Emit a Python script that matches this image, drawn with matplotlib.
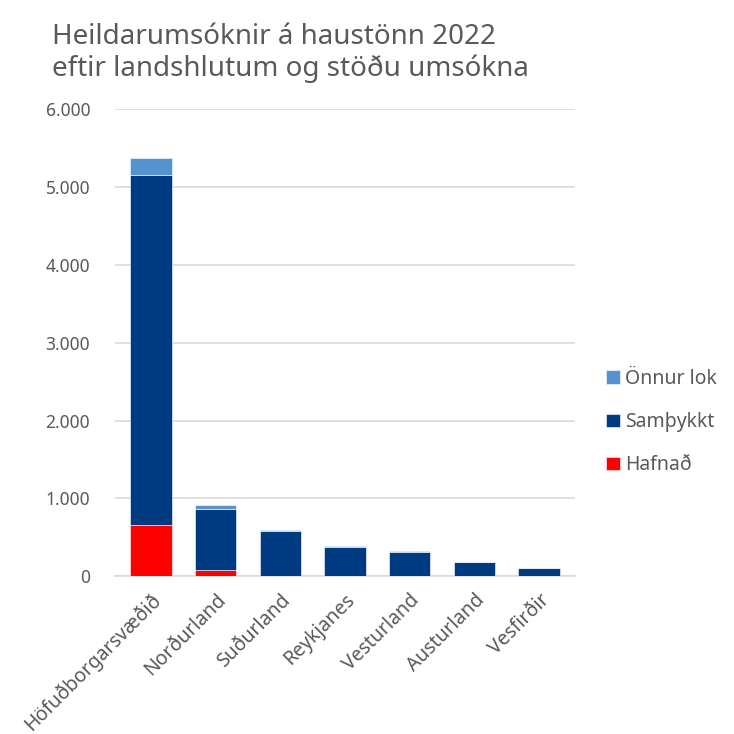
import matplotlib.pyplot as plt
from matplotlib.ticker import FuncFormatter

# Gögn lesin af myndinni
landshlutar = ["Höfuðborgarsvæðið", "Norðurland", "Suðurland", "Reykjanes",
               "Vesturland", "Austurland", "Vesfirðir"]
hafnad = [655, 75, 5, 3, 3, 2, 1]
samthykkt = [4495, 790, 580, 378, 310, 176, 98]
onnur_lok = [220, 47, 15, 10, 8, 6, 4]

LITIR = {"Hafnað": "#ff0000", "Samþykkt": "#003b82", "Önnur lok": "#5592cf"}
GRAR = "#595959"

plt.rcParams["font.family"] = ["Noto Sans", "DejaVu Sans"]

fig = plt.figure(figsize=(7.34, 7.34), dpi=100)
ax = fig.add_axes([0.157, 0.215, 0.626, 0.636])

x = range(len(landshlutar))
b1 = ax.bar(x, hafnad, width=0.64, color=LITIR["Hafnað"], label="Hafnað",
            edgecolor="white", linewidth=0.4, zorder=3)
botn = list(hafnad)
b2 = ax.bar(x, samthykkt, width=0.64, bottom=botn, color=LITIR["Samþykkt"],
            label="Samþykkt", edgecolor="white", linewidth=0.4, zorder=3)
botn = [a + b for a, b in zip(botn, samthykkt)]
b3 = ax.bar(x, onnur_lok, width=0.64, bottom=botn, color=LITIR["Önnur lok"],
            label="Önnur lok", edgecolor="white", linewidth=0.4, zorder=3)

ax.set_ylim(0, 6000)
ax.set_xlim(-0.55, len(landshlutar) - 0.45)
ax.set_yticks(range(0, 6001, 1000))
ax.yaxis.set_major_formatter(FuncFormatter(lambda v, p: f"{int(v):,}".replace(",", ".")))
ax.grid(axis="y", color="#d9d9d9", linewidth=1.2, zorder=0)
for s in ["top", "right", "left"]:
    ax.spines[s].set_visible(False)
ax.spines["bottom"].set_color("#d9d9d9")
ax.spines["bottom"].set_linewidth(1.2)
ax.tick_params(axis="both", length=0, colors=GRAR, labelsize=12.5)
ax.tick_params(axis="y", pad=18)
ax.tick_params(axis="x", pad=10, labelsize=14)
ax.set_xticks(list(x))
ax.set_xticklabels(landshlutar, rotation=45, ha="right", rotation_mode="anchor")

fig.text(0.071, 0.968, "Heildarumsóknir á haustönn 2022\neftir landshlutum og stöðu umsókna",
         fontsize=20, color=GRAR, ha="left", va="top", linespacing=1.15)

leg = ax.legend(handles=[b3, b2, b1], loc="center left", bbox_to_anchor=(1.03, 0.33),
                frameon=False, fontsize=14, labelcolor=GRAR, handlelength=0.7,
                handleheight=0.7, handletextpad=0.3, labelspacing=1.2)

fig.savefig("out.png", dpi=100)
